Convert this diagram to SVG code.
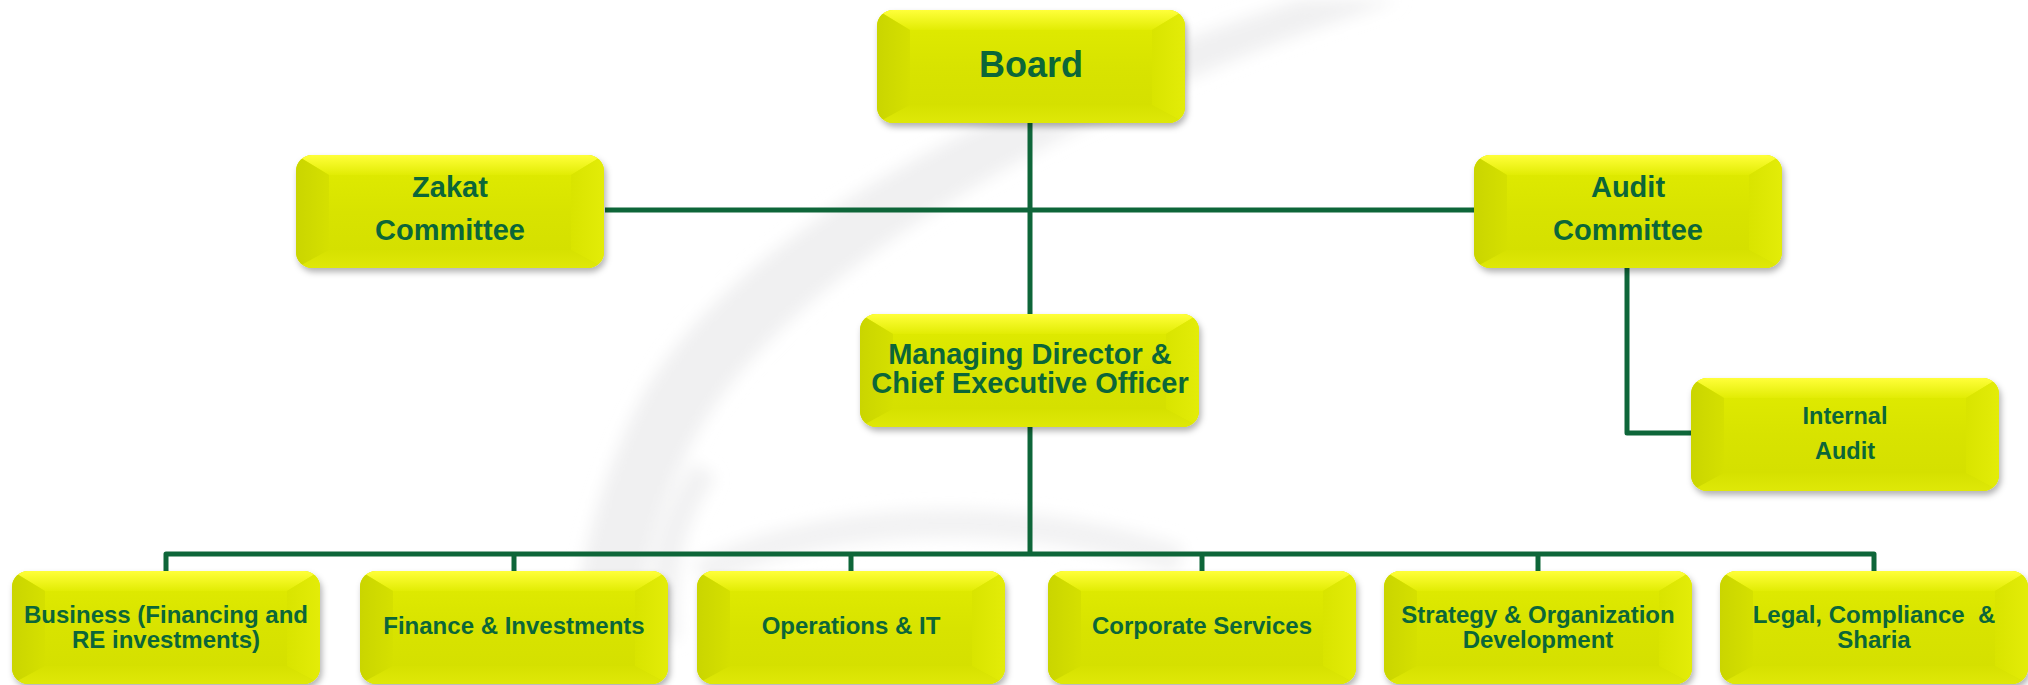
<svg xmlns="http://www.w3.org/2000/svg" width="2028" height="685" viewBox="0 0 2028 685">
<style>
.txt{font-family:"Liberation Sans",Arial,sans-serif;font-weight:bold;fill:#0b6639;text-anchor:middle;white-space:pre}
.conn{fill:none;stroke:#0e6639;stroke-width:5;stroke-linejoin:round;stroke-linecap:butt}
.body{fill:url(#gBody)}
.bt{fill:url(#gTop)}
.bl{fill:url(#gLeft)}
.br{fill:url(#gRight)}
.bb{fill:url(#gBot)}
.wm{fill:#f0f0f1}
</style>
<defs>
<linearGradient id="gBody" x1="0" y1="0" x2="0" y2="1">
<stop offset="0" stop-color="#dee900"/>
<stop offset="0.5" stop-color="#d8e300"/>
<stop offset="1" stop-color="#d5e000"/>
</linearGradient>
<linearGradient id="gTop" x1="0" y1="0" x2="0" y2="1">
<stop offset="0" stop-color="#ffff3a"/>
<stop offset="1" stop-color="#e2ec04"/>
</linearGradient>
<linearGradient id="gLeft" x1="0" y1="0" x2="1" y2="0">
<stop offset="0" stop-color="#cad500"/>
<stop offset="1" stop-color="#d5e000"/>
</linearGradient>
<linearGradient id="gRight" x1="0" y1="0" x2="1" y2="0">
<stop offset="0" stop-color="#d9e400"/>
<stop offset="1" stop-color="#e3ec08"/>
</linearGradient>
<linearGradient id="gBot" x1="0" y1="0" x2="0" y2="1">
<stop offset="0" stop-color="#d6e100"/>
<stop offset="1" stop-color="#dfe808"/>
</linearGradient>
<clipPath id="c308"><rect x="0" y="0" width="308" height="113" rx="16"/></clipPath>
<clipPath id="c339"><rect x="0" y="0" width="339" height="113" rx="16"/></clipPath>
<filter id="shadow" x="-10%" y="-10%" width="120%" height="130%">
<feDropShadow dx="2" dy="4" stdDeviation="3" flood-color="#000" flood-opacity="0.3"/>
</filter>
<filter id="soft" x="-20%" y="-20%" width="140%" height="140%">
<feGaussianBlur stdDeviation="8"/>
</filter>
<g id="box308">
<g filter="url(#shadow)"><rect x="0" y="0" width="308" height="113" rx="16" class="body"/></g>
<g clip-path="url(#c308)">
<polygon class="bt" points="0,0 308,0 275,20 33,20"/>
<polygon class="bl" points="0,0 33,20 33,95 0,113"/>
<polygon class="br" points="308,0 275,20 275,95 308,113"/>
<polygon class="bb" points="0,113 33,95 275,95 308,113"/>
<rect x="33" y="20" width="242" height="75" class="body"/>
</g>
</g>
<g id="box339">
<g filter="url(#shadow)"><rect x="0" y="0" width="339" height="113" rx="16" class="body"/></g>
<g clip-path="url(#c339)">
<polygon class="bt" points="0,0 339,0 306,20 33,20"/>
<polygon class="bl" points="0,0 33,20 33,95 0,113"/>
<polygon class="br" points="339,0 306,20 306,95 339,113"/>
<polygon class="bb" points="0,113 33,95 306,95 339,113"/>
<rect x="33" y="20" width="273" height="75" class="body"/>
</g>
</g>
</defs>
<rect x="0" y="0" width="2028" height="685" fill="#ffffff"/>
<g id="watermark" filter="url(#soft)">
<path class="wm" d="M1300,0 C1020,90 740,220 640,400 C590,500 570,600 572,685 L640,685 C636,600 650,510 705,420 C800,270 1060,110 1400,0 Z"/>
<path fill="none" stroke="#f1f1f2" stroke-width="26" d="M705,470 C670,520 660,570 665,640"/>
<path fill="none" stroke="#f2f2f3" stroke-width="28" d="M700,575 C800,520 1000,500 1180,560"/>
</g>
<g id="connectors">
<path class="conn" d="M1030,123 V314"/>
<path class="conn" d="M605,210 H1474"/>
<path class="conn" d="M1627,268 V433 H1691"/>
<path class="conn" d="M1030,427 V554"/>
<path class="conn" d="M166,571 V554 H1874 V571"/>
<path class="conn" d="M514,554 V571"/>
<path class="conn" d="M851,554 V571"/>
<path class="conn" d="M1202,554 V571"/>
<path class="conn" d="M1538,554 V571"/>
</g>
<g id="node-board" transform="translate(877,10)">
<use href="#box308"/>
<text class="txt" x="154" y="67" font-size="36">Board</text>
</g>
<g id="node-zakat" transform="translate(296,155)">
<use href="#box308"/>
<text class="txt" x="154" y="42" font-size="29">Zakat</text>
<text class="txt" x="154" y="85" font-size="29">Committee</text>
</g>
<g id="node-audit" transform="translate(1474,155)">
<use href="#box308"/>
<text class="txt" x="154" y="42" font-size="29">Audit</text>
<text class="txt" x="154" y="85" font-size="29">Committee</text>
</g>
<g id="node-md" transform="translate(860,314)">
<use href="#box339"/>
<text class="txt" x="170" y="50" font-size="29">Managing Director &amp;</text>
<text class="txt" x="170" y="79" font-size="29">Chief Executive Officer</text>
</g>
<g id="node-internal-audit" transform="translate(1691,378)">
<use href="#box308"/>
<text class="txt" x="154" y="46" font-size="23.5">Internal</text>
<text class="txt" x="154" y="81" font-size="23.5">Audit</text>
</g>
<g id="node-business" transform="translate(12,571)">
<use href="#box308"/>
<text class="txt" x="154" y="52" font-size="24">Business (Financing and</text>
<text class="txt" x="154" y="77" font-size="24">RE investments)</text>
</g>
<g id="node-finance" transform="translate(360,571)">
<use href="#box308"/>
<text class="txt" x="154" y="63" font-size="24">Finance &amp; Investments</text>
</g>
<g id="node-operations" transform="translate(697,571)">
<use href="#box308"/>
<text class="txt" x="154" y="63" font-size="24">Operations &amp; IT</text>
</g>
<g id="node-corporate" transform="translate(1048,571)">
<use href="#box308"/>
<text class="txt" x="154" y="63" font-size="24">Corporate Services</text>
</g>
<g id="node-strategy" transform="translate(1384,571)">
<use href="#box308"/>
<text class="txt" x="154" y="52" font-size="24">Strategy &amp; Organization</text>
<text class="txt" x="154" y="77" font-size="24">Development</text>
</g>
<g id="node-legal" transform="translate(1720,571)">
<use href="#box308"/>
<text class="txt" x="154" y="52" font-size="24">Legal, Compliance  &amp;</text>
<text class="txt" x="154" y="77" font-size="24">Sharia</text>
</g>
</svg>
